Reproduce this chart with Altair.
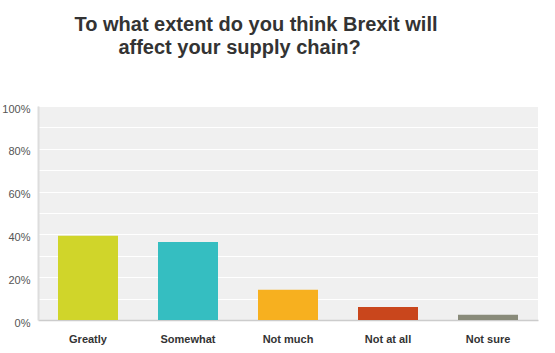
import altair as alt
import pandas as pd

categories = ["Greatly", "Somewhat", "Not much", "Not at all", "Not sure"]
values = [0.394, 0.364, 0.141, 0.061, 0.025]
colors = ["#d0d52a", "#35bec1", "#f7b01f", "#c9461c", "#898b7a"]
y_ticks = [0, 0.1, 0.2, 0.3, 0.4, 0.5, 0.6, 0.7, 0.8, 0.9, 1.0]
title_lines = ["To what extent do you think Brexit will", "affect your supply chain?"]

df = pd.DataFrame({"answer": categories, "share": values})

bars = (
    alt.Chart(df)
    .mark_bar()
    .encode(
        x=alt.X(
            "answer:N",
            sort=categories,
            title=None,
            scale=alt.Scale(paddingInner=0.4, paddingOuter=0.2),
            axis=alt.Axis(
                labelAngle=0,
                labelFont="Liberation Sans",
                labelFontWeight="bold",
                labelFontSize=11,
                labelColor="#333333",
                labelPadding=13,
                ticks=False,
                domainColor="#cccccc",
                domainWidth=1.5,
                grid=False,
            ),
        ),
        y=alt.Y(
            "share:Q",
            title=None,
            scale=alt.Scale(domain=[0, 1], nice=False),
            axis=alt.Axis(
                values=y_ticks,
                labelExpr="round(datum.value*10) % 2 == 0 ? format(datum.value, '.0%') : ''",
                labelFont="Liberation Sans",
                labelFontSize=11,
                labelColor="#555555",
                labelPadding=8,
                labelOffset=3,
                ticks=False,
                domainColor="#dddddd",
                domainWidth=2,
                grid=True,
                gridColor="#ffffff",
                gridWidth=1,
            ),
        ),
        color=alt.Color(
            "answer:N",
            sort=categories,
            scale=alt.Scale(domain=categories, range=colors),
            legend=None,
        ),
    )
)

title_style = dict(
    font="Liberation Sans",
    fontSize=20,
    fontWeight="bold",
    color="#333333",
    align="center",
    baseline="alphabetic",
)

title1 = (
    alt.Chart(pd.DataFrame({"line": [title_lines[0]]}))
    .mark_text(**title_style)
    .encode(text="line:N", x=alt.value(218), y=alt.value(-75))
)
title2 = (
    alt.Chart(pd.DataFrame({"line": [title_lines[1]]}))
    .mark_text(**title_style)
    .encode(text="line:N", x=alt.value(201.5), y=alt.value(-52))
)

chart = (
    alt.layer(bars, title1, title2)
    .properties(
        width=500,
        height=214,
        autosize=alt.AutoSizeParams(type="none"),
        padding={"left": 38, "top": 106, "right": 17, "bottom": 33},
    )
    .configure_view(fill="#f0f0f0", stroke=None)
)

chart.save("out.html", embed_options={"renderer": "svg", "actions": False})
